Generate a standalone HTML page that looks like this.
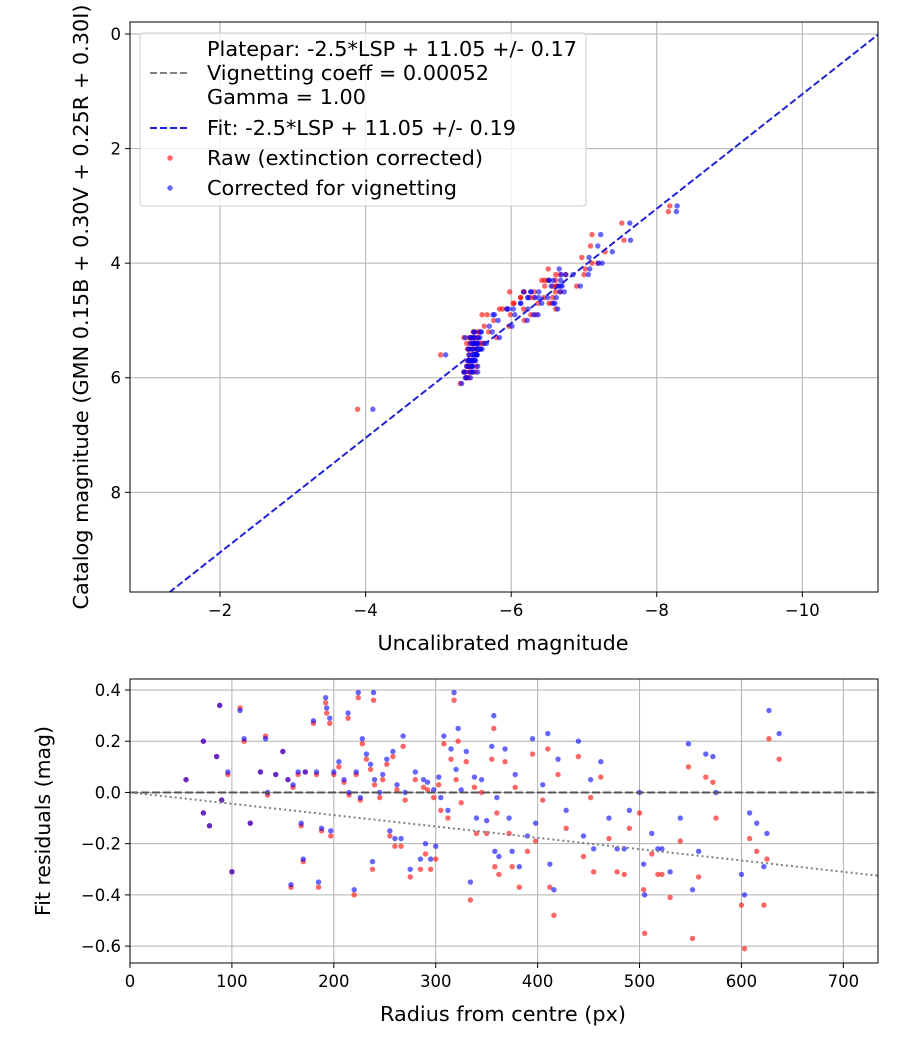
<!DOCTYPE html>
<html><head><meta charset="utf-8"><style>
body{margin:0;background:#fff}
svg{font-family:"DejaVu Sans","Liberation Sans",sans-serif}
</style></head><body>
<svg id="c" width="900" height="1050" xmlns="http://www.w3.org/2000/svg"></svg>
<script>
// bottom-plot data: radius (px), corrected residual, raw residual
const radius=[55,72,72,78,85,88,90,96,100,108,112,118,128,133,135,143,150,155,158,160,165,168,170,172,180,183,185,188,192,193,196,197,200,205,210,214,215,220,222,224,226,228,232,236,238,239,240,245,248,252,255,258,260,262,266,268,270,275,280,285,288,290,292,295,298,300,303,305,308,312,315,318,320,322,325,330,334,338,340,345,350,355,357,358,360,362,368,372,375,378,382,390,395,398,405,410,412,416,420,428,440,445,452,455,462,470,478,485,490,500,504,505,512,518,522,530,540,548,552,558,565,572,575,600,603,608,615,622,625,627,637];
const resCorr=[0.05,0.20,-0.08,-0.13,0.14,0.34,-0.03,0.08,-0.31,0.32,0.21,-0.12,0.08,0.21,0.0,0.07,0.16,0.05,-0.36,0.03,0.08,-0.12,-0.26,0.08,0.28,0.08,-0.35,-0.14,0.37,0.33,0.29,-0.15,0.08,0.12,0.05,0.31,0.0,-0.38,0.08,0.39,-0.02,0.21,0.15,0.11,-0.27,0.39,0.05,0.0,0.07,0.13,-0.15,0.16,-0.18,0.03,-0.18,0.22,0.0,-0.30,0.08,-0.26,0.05,-0.20,0.04,-0.26,0.01,-0.21,0.06,-0.02,0.22,-0.07,0.17,0.39,0.09,0.25,0.01,0.16,-0.35,0.06,-0.10,0.05,-0.11,0.18,0.30,-0.23,-0.02,-0.25,0.17,-0.10,-0.23,0.07,-0.29,-0.17,0.21,-0.12,0.03,0.23,-0.28,-0.38,0.13,-0.07,0.20,-0.17,0.05,-0.22,0.12,-0.10,-0.22,-0.22,-0.07,0.0,-0.28,-0.40,-0.16,-0.22,-0.22,-0.31,-0.10,0.19,-0.38,-0.23,0.15,0.14,0.0,-0.32,-0.40,-0.08,-0.12,-0.29,-0.16,0.32,0.23];
const resRaw=[0.05,0.20,-0.08,-0.13,0.14,0.34,-0.03,0.07,-0.31,0.33,0.20,-0.12,0.08,0.22,-0.01,0.07,0.16,0.05,-0.37,0.02,0.07,-0.13,-0.27,0.08,0.27,0.07,-0.37,-0.15,0.35,0.31,0.27,-0.17,0.07,0.10,0.04,0.29,-0.01,-0.40,0.07,0.37,-0.03,0.19,0.13,0.09,-0.30,0.36,0.03,-0.02,0.05,0.11,-0.17,0.14,-0.21,0.01,-0.21,0.18,-0.03,-0.33,0.05,-0.30,0.02,-0.24,0.01,-0.30,-0.02,-0.26,0.03,-0.07,0.19,-0.10,0.13,0.36,0.05,0.20,-0.04,0.12,-0.42,0.02,-0.16,0.0,-0.16,0.13,0.25,-0.29,-0.08,-0.32,0.12,-0.16,-0.29,0.02,-0.37,-0.23,0.15,-0.19,-0.03,0.17,-0.37,-0.48,0.07,-0.14,0.14,-0.25,-0.02,-0.31,0.06,-0.18,-0.31,-0.32,-0.14,-0.08,-0.38,-0.55,-0.24,-0.32,-0.32,-0.41,-0.19,0.10,-0.57,-0.33,0.06,0.04,-0.10,-0.44,-0.61,-0.18,-0.23,-0.44,-0.26,0.21,0.13];
// catalog magnitude of each star
const catalog=[5.6,5.9,5.5,5.5,5.8,6.0,5.6,5.7,5.3,6.0,5.8,5.4,5.7,5.9,5.5,5.6,5.8,5.7,5.2,5.6,5.7,5.4,5.3,5.7,5.9,5.6,5.2,5.5,6.1,5.9,5.8,5.4,5.6,5.7,5.6,5.9,5.5,5.3,5.6,6.0,5.5,5.8,5.7,5.7,5.2,5.9,5.6,5.5,5.6,5.7,5.4,5.7,5.3,5.5,5.4,5.8,5.5,5.3,5.6,5.2,5.5,5.3,5.6,5.3,5.5,5.4,5.6,5.4,4.9,5.5,5.0,4.8,5.3,4.7,5.4,4.9,5.6,5.1,5.4,4.6,5.2,4.5,4.4,5.0,4.8,5.1,4.6,4.9,4.3,4.7,4.8,4.5,4.2,4.6,4.4,4.7,4.5,4.9,4.1,4.6,4.0,4.3,4.4,4.8,4.5,4.2,4.7,4.6,4.3,4.4,4.5,4.9,4.2,4.7,4.6,4.8,4.4,3.6,4.5,4.3,4.0,3.8,4.2,3.5,6.55,3.9,3.3,4.1,3.7,3.1,3.0];
const xTicksTop=[-2,-4,-6,-8,-10], yTicksTop=[0,2,4,6,8];
const xTicksBot=[0,100,200,300,400,500,600,700], yTicksBot=[0.4,0.2,0.0,-0.2,-0.4,-0.6];
const fitOffset=11.05, vignSlope=-0.000443;

const S=document.getElementById('c'),NS='http://www.w3.org/2000/svg';
function mk(t,a,txt){const e=document.createElementNS(NS,t);for(const k in a)e.setAttribute(k,a[k]);if(txt!==undefined)e.textContent=txt;S.appendChild(e);return e;}
function fmt(v){return (v<0?'\u2212':'')+Math.abs(v).toFixed(Number.isInteger(v)&&Math.abs(v)>=1?0:1);}
const T={l:130,r:878,t:22,b:592,x0:-0.763,x1:-11.04,y0:-0.21,y1:9.74};
const B={l:130,r:878,t:679,b:963,x0:0,x1:734,y0:0.443,y1:-0.666};
const sx=(A,v)=>A.l+(v-A.x0)/(A.x1-A.x0)*(A.r-A.l);
const sy=(A,v)=>A.t+(v-A.y0)/(A.y1-A.y0)*(A.b-A.t);
function frame(A,xt,yt,xf,yf,nm){
  mk('rect',{x:A.l,y:A.t,width:A.r-A.l,height:A.b-A.t,fill:'#fff'});
  xt.forEach(v=>{const x=sx(A,v);let e=mk('line',{x1:x,x2:x,y1:A.t,y2:A.b,stroke:'#b0b0b0','stroke-width':1});
    
    mk('line',{x1:x,x2:x,y1:A.b,y2:A.b+5,stroke:'#000'});
    e=mk('text',{x:x,y:A.b+24,'text-anchor':'middle','font-size':16.5},xf(v));
    });
  yt.forEach(v=>{const y=sy(A,v);let e=mk('line',{x1:A.l,x2:A.r,y1:y,y2:y,stroke:'#b0b0b0','stroke-width':1});
    
    mk('line',{x1:A.l-5,x2:A.l,y1:y,y2:y,stroke:'#000'});
    e=mk('text',{x:A.l-9,y:y+6,'text-anchor':'end','font-size':16.5},yf(v));
    });
}
function border(A){mk('rect',{x:A.l,y:A.t,width:A.r-A.l,height:A.b-A.t,fill:'none',stroke:'#000','stroke-width':1});}
frame(T,xTicksTop,yTicksTop,v=>fmt(v),v=>String(v),'top');
const cp=mk('clipPath',{id:'ct'});const cr=document.createElementNS(NS,'rect');
cr.setAttribute('x',T.l);cr.setAttribute('y',T.t);cr.setAttribute('width',T.r-T.l);cr.setAttribute('height',T.b-T.t);cp.appendChild(cr);
const g=mk('g',{'clip-path':'url(#ct)'});
const n=Math.min(radius.length,resCorr.length,resRaw.length,catalog.length);
function dot(par,x,y,col,nm){const e=document.createElementNS(NS,'circle');e.setAttribute('cx',x);e.setAttribute('cy',y);e.setAttribute('r',2.7);e.setAttribute('fill',col);e.setAttribute('fill-opacity',0.6);
  par.appendChild(e);}
for(let i=0;i<n;i++){const ux=catalog[i]-fitOffset-resRaw[i];dot(g,sx(T,ux),sy(T,catalog[i]),'#ff0000','raw-point');}
for(let i=0;i<n;i++){const ux=catalog[i]-fitOffset-resCorr[i];dot(g,sx(T,ux),sy(T,catalog[i]),'#0000ff','corrected-point');}
let fl=document.createElementNS(NS,'line');
[['x1',sx(T,T.x0)],['y1',sy(T,T.x0+fitOffset)],['x2',sx(T,T.x1)],['y2',sy(T,T.x1+fitOffset)],['stroke','#2323d6'],['stroke-width',2],['stroke-dasharray','7,3']].forEach(a=>fl.setAttribute(a[0],a[1]));
g.appendChild(fl);
border(T);
let lg=mk('rect',{x:140,y:33,width:446,height:173,rx:3,fill:'#fff','fill-opacity':0.8,stroke:'#ccc'});

const lt=[[56,'Platepar: -2.5*LSP + 11.05 +/- 0.17'],[80,'Vignetting coeff = 0.00052'],[104,'Gamma = 1.00'],[135,'Fit: -2.5*LSP + 11.05 +/- 0.19'],[165,'Raw (extinction corrected)'],[195,'Corrected for vignetting']];
lt.forEach(a=>{const e=mk('text',{x:207,y:a[0],'font-size':17.5,textLength:0},a[1]);e.removeAttribute('textLength');});
mk('line',{x1:150,x2:190,y1:73,y2:73,stroke:'#808080','stroke-width':2,'stroke-dasharray':'7,3'});
mk('line',{x1:150,x2:190,y1:128,y2:128,stroke:'#2323d6','stroke-width':2,'stroke-dasharray':'7,3'});
mk('circle',{cx:170,cy:158,r:2.7,fill:'#f00','fill-opacity':0.6});
mk('circle',{cx:170,cy:188,r:2.7,fill:'#00f','fill-opacity':0.6});
let e=mk('text',{x:503,y:650,'text-anchor':'middle','font-size':17.5},'Uncalibrated magnitude');
e=mk('text',{x:0,y:0,'text-anchor':'middle','font-size':17.5,transform:'translate(88,307) rotate(-90)'},'Catalog magnitude (GMN 0.15B + 0.30V + 0.25R + 0.30I)');
frame(B,xTicksBot,yTicksBot,v=>String(v),v=>fmt(v),'bottom');
for(let i=0;i<n;i++)dot(S,sx(B,radius[i]),sy(B,resRaw[i]),'#ff0000','raw-residual-point');
for(let i=0;i<n;i++)dot(S,sx(B,radius[i]),sy(B,resCorr[i]),'#0000ff','corrected-residual-point');
e=mk('line',{x1:B.l,x2:B.r,y1:sy(B,0),y2:sy(B,0),stroke:'#555','stroke-width':2,'stroke-dasharray':'8,3'});
e=mk('line',{x1:sx(B,0),y1:sy(B,0),x2:sx(B,B.x1),y2:sy(B,B.x1*vignSlope),stroke:'#808080','stroke-width':2,'stroke-dasharray':'2,3'});
border(B);
e=mk('text',{x:503,y:1021,'text-anchor':'middle','font-size':17.5},'Radius from centre (px)');
e=mk('text',{x:0,y:0,'text-anchor':'middle','font-size':17.5,transform:'translate(50,821) rotate(-90)'},'Fit residuals (mag)');
// scale text widths to match reference extents
const fitW=[['Platepar: -2.5*LSP + 11.05 +/- 0.17',370],['Vignetting coeff = 0.00052',282],['Gamma = 1.00',159],['Fit: -2.5*LSP + 11.05 +/- 0.19',309],['Raw (extinction corrected)',276],['Corrected for vignetting',250],['Uncalibrated magnitude',251],['Radius from centre (px)',246],['Catalog magnitude (GMN 0.15B + 0.30V + 0.25R + 0.30I)',605],['Fit residuals (mag)',190]];
S.querySelectorAll('text').forEach(t=>{const f=fitW.find(a=>a[0]===t.textContent);if(f){t.setAttribute('textLength',f[1]);t.setAttribute('lengthAdjust','spacingAndGlyphs');t.setAttribute('font-size',20);}});
</script>
</body></html>
